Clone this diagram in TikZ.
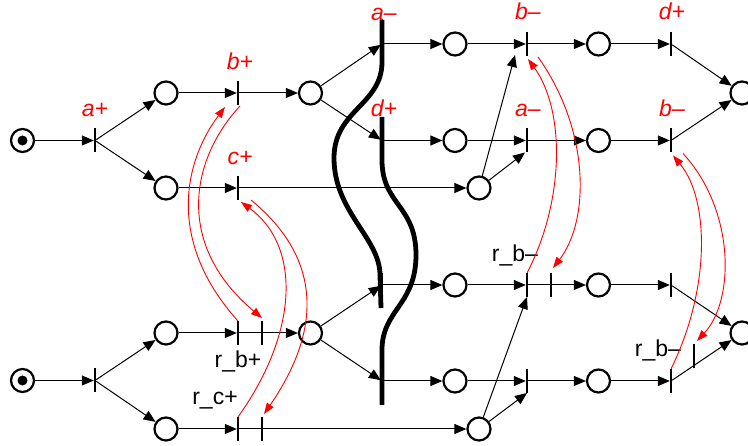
\documentclass[tikz,border=0pt]{standalone}
\usepackage{fontspec}
\setmainfont{Liberation Sans}
\usetikzlibrary{arrows.meta,calc}
\begin{document}
\begin{tikzpicture}[x=1pt,y=-1pt,
 place/.style={circle,draw,line width=2.2pt,minimum size=23pt,inner sep=0pt},
 bar/.style={rectangle,fill=black,minimum width=2.3pt,minimum height=24pt,inner sep=0pt,outer sep=0pt},
 arr/.style={line width=1pt,-{Triangle[length=12pt,width=10pt]}},
 conn/.style={line width=1pt},
 rarr/.style={red,line width=0.9pt,-{Triangle[length=11pt,width=8pt]}},
 thickcurve/.style={line width=4.8pt},
 lab/.style={red,font=\fontsize{23}{26}\selectfont\itshape,anchor=base,inner sep=0pt},
 blab/.style={font=\fontsize{23}{26}\selectfont,anchor=base,inner sep=0pt},
]
\useasboundingbox (0,0) rectangle (748,446);

% ---------- upper net ----------
\node[place] (s1) at (22.5,140.5) {};
\fill (s1) circle (5pt);
\node[bar] (ta1) at (95,140.5) {};
\node[place] (p1) at (166,93) {};
\node[place] (p2) at (166,188) {};
\node[bar] (tb1) at (238,93) {};
\node[bar] (tc1) at (238,188) {};
\node[place] (p3) at (310.5,93) {};
\node[bar] (tam) at (382,44) {};
\node[bar] (tdp) at (382,140.5) {};
\node[place] (p4) at (455,44) {};
\node[place] (p5) at (455,140.5) {};
\node[place] (p6) at (479,188) {};
\node[bar] (tbm) at (527,44) {};
\node[bar] (tam2) at (527,140.5) {};
\node[place] (p7) at (598.5,44) {};
\node[place] (p8) at (598.5,140.5) {};
\node[bar] (tdp2) at (671,44) {};
\node[bar] (tbm2) at (671,140.5) {};
\node[place] (pf1) at (742,93) {};

\node[lab] (la1) at (95,117) {a+};
\node[lab] (la2) at (240,70) {b+};
\node[lab] (la3) at (240,165) {c+};
\node[lab] (la4) at (384,21) {a–};
\node[lab] (la5) at (384,117) {d+};
\node[lab] (la6) at (528,20) {b–};
\node[lab] (la7) at (528,117) {a–};
\node[lab] (la8) at (672,20) {d+};
\node[lab] (la9) at (672,117) {b–};

% ---------- lower net ----------
\node[place] (s2) at (22.5,380.5) {};
\fill (s2) circle (5pt);
\node[bar] (ta3) at (95,380.5) {};
\node[place] (q1) at (166,333) {};
\node[place] (q2) at (166,429) {};
\node[bar] (tb3) at (238,333) {};
\node[bar] (rbp) at (262,333) {};
\node[bar] (tc3) at (238,429) {};
\node[bar] (rcp) at (262,429) {};
\node[place] (q3) at (310.5,333) {};
\node[bar] (tu) at (382,285) {};
\node[bar] (tl) at (382,381) {};
\node[place] (q4) at (455,285) {};
\node[place] (q5) at (455,381) {};
\node[place] (q6) at (479,429) {};
\node[bar] (tv) at (527,285) {};
\node[bar] (rbm) at (551,285) {};
\node[bar] (tw) at (527,381) {};
\node[place] (q7) at (598.5,285) {};
\node[place] (q8) at (598.5,381) {};
\node[bar] (tx) at (671,285) {};
\node[bar] (ty) at (671,381) {};
\node[bar] (rbm2) at (694,356) {};
\node[place] (pf2) at (742,333) {};

\node[blab] (lb1) at (238,368) {r\_b+};
\node[blab] (lb2) at (215,405) {r\_c+};
\node[blab] (lb3) at (515,262) {r\_b–};
\node[blab] (lb4) at (658,357) {r\_b–};

% ---------- thick synchronisation curves ----------
\draw[thickcurve] (382,20) -- (382,62) .. controls (382,105) and (334,110) .. (334,158)
   .. controls (334,212) and (380,238) .. (380,275) -- (381,308);
\draw[thickcurve] (382,117) -- (382,160) .. controls (382,205) and (416,205) .. (416,255)
   .. controls (416,305) and (382,310) .. (382,350) -- (382,405);

% ---------- upper arcs ----------
\draw[arr] (s1) -- (ta1);
\draw[arr] (ta1) -- (p1);
\draw[arr] (ta1) -- (p2);
\draw[arr] (p1) -- (tb1);
\draw[arr] (p2) -- (tc1);
\draw[arr] (tb1) -- (p3);
\draw[arr] (tc1) -- (p6);
\draw[arr] (p3) -- (tam);
\draw[arr] (p3) -- (tdp);
\draw[arr] (tam) -- (p4);
\draw[arr] (tdp) -- (p5);
\draw[arr] (p4) -- (tbm);
\draw[arr] (p5) -- (tam2);
\draw[arr] (p6) -- ($(tbm.south)+(-12,-1)$);
\draw[arr] (p6) -- ($(tam2.south)+(-2,0)$);
\draw[arr] (tbm) -- (p7);
\draw[arr] (tam2) -- (p8);
\draw[arr] (p7) -- (tdp2);
\draw[arr] (p8) -- (tbm2);
\draw[arr] (tdp2) -- (pf1);
\draw[arr] (tbm2) -- (pf1);

% ---------- lower arcs ----------
\draw[arr] (s2) -- (ta3);
\draw[arr] (ta3) -- (q1);
\draw[arr] (ta3) -- (q2);
\draw[arr] (q1) -- (tb3);
\draw[conn] (tb3) -- (rbp);
\draw[arr] (rbp) -- (q3);
\draw[arr] (q2) -- (tc3);
\draw[conn] (tc3) -- (rcp);
\draw[arr] (rcp) -- (q6);
\draw[arr] (q3) -- (tu);
\draw[arr] (q3) -- (tl);
\draw[arr] (tu) -- (q4);
\draw[arr] (tl) -- (q5);
\draw[arr] (q4) -- (tv);
\draw[conn] (tv) -- (rbm);
\draw[arr] (rbm) -- (q7);
\draw[arr] (q5) -- (tw);
\draw[arr] (q6) -- (tv.south);
\draw[arr] (q6) -- (tw.south);
\draw[arr] (tw) -- (q8);
\draw[arr] (q7) -- (tx);
\draw[arr] (q8) -- (ty);
\draw[arr] (tx) -- (pf2);
\draw[arr] (ty) -- (pf2);

% ---------- red dependency arcs ----------
\draw[rarr] (tb3.north) .. controls (165,240) and (185,160) .. ($(tb1.south)+(-13,2)$);
\draw[rarr] ($(tb1.south)+(2,1)$) .. controls (190,160) and (175,245) .. ($(rbp.north)+(0,-3)$);
\draw[rarr] (tc3.north) .. controls (300,330) and (300,245) .. ($(tc1.south)+(3,2)$);
\draw[rarr] ($(tc1.south)+(13,0)$) .. controls (330,265) and (315,340) .. ($(rcp.north)+(2,-3)$);
\draw[rarr] (tv.north) .. controls (565,200) and (565,110) .. ($(tbm.south)+(1,3)$);
\draw[rarr] ($(tbm.south)+(11,1)$) .. controls (590,130) and (590,220) .. ($(rbm.north)+(2,-5)$);
\draw[rarr] (ty.north) .. controls (710,290) and (710,200) .. ($(tbm2.south)+(2,3)$);
\draw[rarr] ($(tbm2.south)+(12,1)$) .. controls (735,210) and (735,300) .. ($(rbm2.north)+(3,-3)$);
\end{tikzpicture}
\end{document}
